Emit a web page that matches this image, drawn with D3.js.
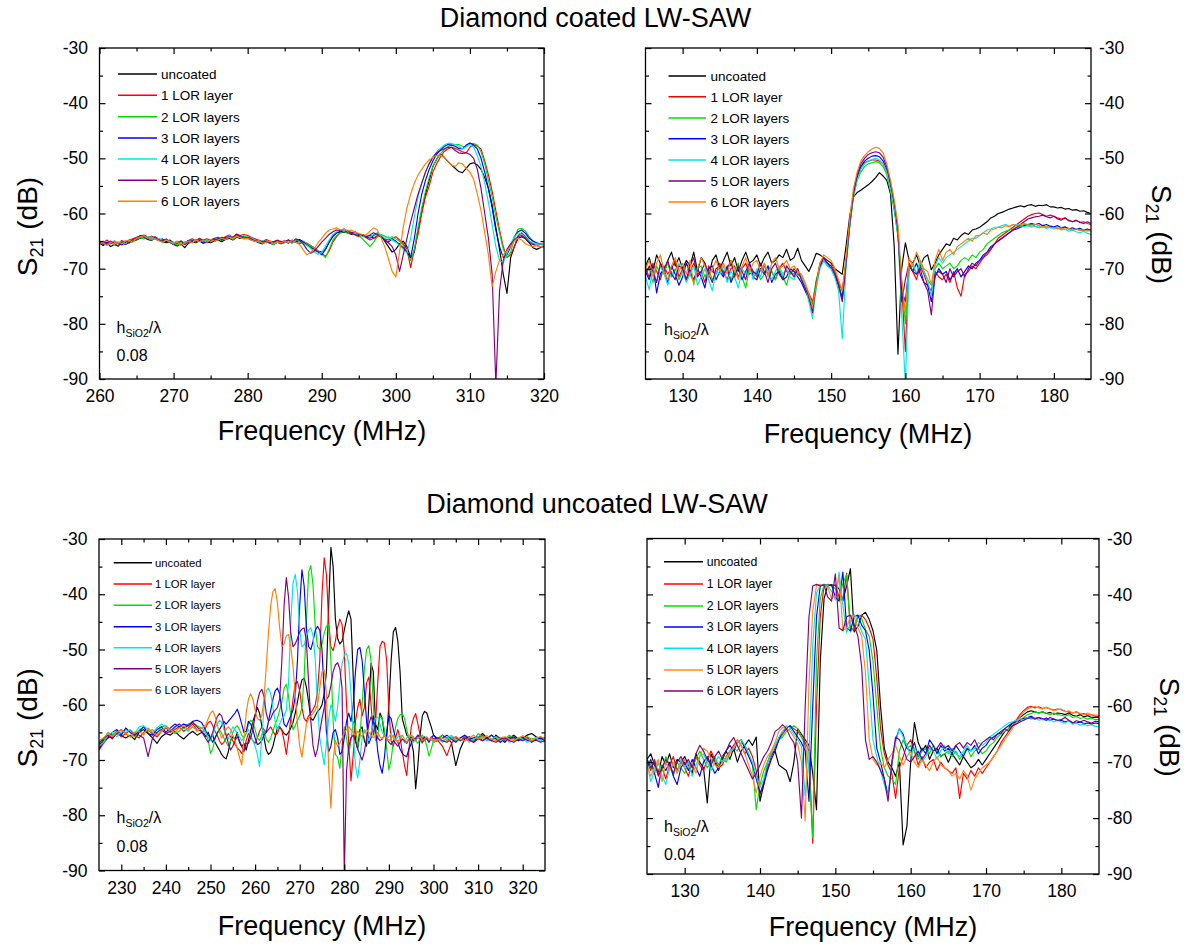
<!DOCTYPE html>
<html>
<head>
<meta charset="utf-8">
<script src="https://cdn.jsdelivr.net/npm/d3@7"></script>
<style>
  body { margin: 0; background: #fff; }
  svg { display: block; }
  text { font-family: Arial, "Liberation Sans", sans-serif; fill: #000; }
</style>
</head>
<body>
<svg id="chart" width="1189" height="947"></svg>
<script>
// ---------------- series names and colours ----------------
const layerNames = ["uncoated", "1 LOR layer", "2 LOR layers", "3 LOR layers", "4 LOR layers", "5 LOR layers", "6 LOR layers"];
const traceColors = ["#000000", "#ff0000", "#00e000", "#0000ff", "#00e6e6", "#800080", "#ff8000"];
// the bare-diamond 0.04 device uses orange for 5 layers and purple for 6
const traceColorsSwap = ["#000000", "#ff0000", "#00e000", "#0000ff", "#00e6e6", "#ff8c1a", "#800080"];

const yMajorTicks = [-90, -80, -70, -60, -50, -40, -30];
const yMinorTicks = [-85, -75, -65, -55, -45, -35];

// ---------------- coated diamond, hSiO2/λ = 0.08 (S21 in dB) ----------------
const coated08Freq = d3.range(260, 320.001, 0.5);
const coated08Uncoated = [
-65.4,-65.8,-65.3,-66.0,-65.6,-65.9,-65.2,-65.6,-65.3,-65.0,
-64.8,-64.5,-64.3,-64.7,-64.9,-64.5,-64.8,-65.1,-65.3,-65.2,
-65.6,-65.9,-65.5,-66.2,-65.4,-65.1,-65.3,-65.0,-65.4,-65.2,
-65.3,-65.0,-64.8,-65.1,-64.7,-64.5,-64.8,-64.3,-64.5,-64.2,
-64.5,-64.8,-65.0,-65.3,-65.5,-65.1,-65.4,-65.6,-65.2,-65.5,
-65.2,-64.8,-65.3,-65.0,-64.7,-65.1,-65.6,-66.0,-66.5,-66.8,
-67.0,-66.5,-65.2,-64.2,-63.5,-63.4,-63.2,-63.5,-63.8,-63.6,
-64.0,-63.8,-64.3,-64.0,-64.5,-64.2,-64.0,-65.0,-66.0,-67.0,
-66.5,-65.5,-65.0,-66.0,-68.0,-67.0,-63.0,-59.5,-56.5,-54.0,
-51.5,-50.2,-49.2,-49.8,-50.5,-51.2,-51.8,-52.4,-52.6,-51.8,
-51.0,-50.8,-51.2,-52.0,-53.5,-55.5,-58.5,-62.5,-66.5,-71.0,
-74.5,-68.0,-66.0,-64.5,-64.2,-64.6,-65.3,-66.2,-66.5,-66.2,
-66.0];
const coated08Lor1 = [
-65.0,-65.3,-64.8,-65.4,-65.1,-65.5,-64.9,-65.2,-64.8,-64.6,
-64.3,-64.1,-63.9,-64.2,-64.5,-64.2,-64.6,-64.9,-64.7,-65.0,
-65.2,-65.5,-65.0,-65.4,-64.9,-64.6,-64.9,-64.5,-64.8,-64.6,
-64.8,-64.5,-64.3,-64.6,-64.2,-63.9,-64.3,-63.7,-64.0,-63.8,
-64.0,-64.3,-64.6,-64.9,-65.1,-64.7,-65.0,-65.2,-64.8,-65.1,
-65.0,-65.4,-64.8,-65.2,-65.5,-65.1,-65.4,-65.8,-66.2,-66.8,
-67.2,-67.8,-66.8,-65.2,-64.2,-63.5,-63.4,-63.2,-63.6,-63.9,
-64.2,-64.0,-64.4,-64.8,-64.5,-64.0,-64.3,-64.6,-64.8,-64.5,
-64.2,-64.8,-65.5,-66.4,-69.8,-66.5,-63.8,-60.0,-57.0,-55.0,
-52.5,-51.0,-49.8,-48.8,-48.3,-48.0,-48.2,-48.5,-48.8,-49.0,
-48.0,-47.5,-47.8,-48.3,-50.5,-53.0,-56.0,-59.5,-63.0,-66.0,
-68.0,-67.5,-66.0,-64.0,-63.5,-64.2,-65.0,-65.4,-65.5,-65.6,
-65.7];
const coated08Lor2 = [
-65.3,-65.0,-65.5,-65.2,-65.7,-65.3,-65.6,-65.1,-65.4,-65.0,
-64.7,-64.4,-64.6,-64.3,-64.8,-64.5,-64.9,-65.2,-65.0,-65.3,
-65.4,-65.7,-65.3,-65.6,-65.2,-64.9,-65.1,-64.8,-65.0,-64.8,
-65.1,-64.8,-64.6,-64.9,-64.5,-64.3,-64.7,-64.2,-64.4,-64.1,
-64.3,-64.6,-64.9,-65.1,-65.4,-65.0,-65.3,-65.6,-65.2,-65.4,
-65.3,-64.9,-65.4,-65.0,-65.2,-65.0,-65.5,-65.9,-66.3,-66.8,
-67.3,-68.0,-66.5,-64.8,-64.0,-63.5,-63.3,-63.6,-63.4,-63.8,
-64.0,-64.6,-65.3,-66.0,-65.2,-64.2,-63.8,-64.1,-64.5,-64.2,
-64.6,-65.0,-65.8,-67.0,-68.5,-66.5,-62.5,-59.0,-56.0,-53.5,
-51.5,-50.2,-49.2,-48.5,-47.9,-47.6,-47.5,-47.5,-47.8,-47.9,
-47.4,-47.3,-47.6,-48.8,-51.0,-54.0,-57.0,-60.5,-63.5,-66.5,
-68.0,-67.0,-64.5,-62.8,-62.7,-63.2,-64.2,-65.0,-65.4,-65.5,
-65.6];
const coated08Lor3 = [
-65.1,-65.6,-65.2,-65.5,-65.0,-65.4,-65.7,-65.2,-64.9,-65.1,
-64.6,-64.2,-64.0,-64.4,-64.2,-64.6,-64.9,-64.6,-65.1,-64.8,
-65.4,-65.1,-65.6,-65.3,-64.9,-65.2,-64.8,-64.9,-65.3,-65.0,
-64.8,-64.9,-64.5,-64.8,-64.4,-64.1,-64.4,-63.9,-64.1,-64.3,
-64.4,-64.7,-64.9,-65.2,-65.0,-65.3,-65.1,-65.3,-65.0,-65.2,
-65.0,-65.3,-64.9,-65.2,-64.8,-65.2,-65.7,-66.2,-66.6,-67.0,
-67.5,-66.5,-65.2,-64.0,-63.5,-63.2,-63.4,-63.1,-63.5,-63.8,
-64.0,-63.8,-64.2,-64.5,-64.0,-63.6,-64.0,-64.8,-65.2,-64.6,
-65.0,-65.6,-66.2,-67.0,-68.0,-64.5,-60.0,-56.5,-54.0,-52.0,
-50.5,-49.3,-48.5,-47.9,-47.5,-47.6,-47.8,-48.2,-48.3,-47.6,
-47.2,-47.6,-48.3,-50.0,-52.5,-55.5,-59.0,-63.0,-66.0,-68.0,
-67.5,-66.0,-64.2,-63.3,-63.0,-63.6,-64.5,-65.0,-65.3,-65.5,
-65.6];
const coated08Lor4 = [
-65.5,-65.2,-65.7,-65.3,-65.0,-65.4,-65.1,-65.5,-65.0,-64.7,
-64.4,-64.1,-64.5,-64.2,-64.4,-64.7,-64.5,-64.9,-64.8,-65.1,
-65.3,-65.0,-65.5,-65.1,-65.3,-64.8,-65.0,-64.6,-65.1,-64.8,
-65.0,-64.6,-64.7,-64.4,-64.6,-64.0,-64.4,-64.0,-64.2,-64.4,
-64.6,-64.4,-64.8,-65.2,-64.9,-65.2,-65.0,-65.4,-65.1,-65.3,
-65.2,-64.9,-65.3,-64.7,-65.0,-65.4,-65.8,-66.3,-67.0,-67.4,
-67.0,-66.0,-64.8,-63.8,-63.3,-63.0,-63.2,-63.0,-63.4,-63.6,
-63.8,-64.2,-64.0,-64.3,-63.8,-63.5,-63.9,-64.5,-64.2,-64.8,
-65.2,-65.8,-66.5,-67.2,-64.5,-60.5,-57.0,-54.5,-52.5,-51.0,
-49.8,-48.8,-48.2,-47.6,-47.3,-47.3,-47.5,-47.8,-48.3,-47.9,
-47.5,-48.0,-49.5,-51.5,-54.5,-58.0,-62.0,-66.0,-68.5,-69.0,
-67.2,-65.5,-64.3,-63.5,-63.8,-64.5,-65.0,-65.3,-65.5,-65.5,
-65.6];
const coated08Lor5 = [
-65.4,-65.1,-65.6,-65.0,-65.5,-65.9,-65.2,-65.0,-65.3,-64.7,
-64.4,-64.0,-64.3,-64.6,-64.1,-64.4,-64.8,-65.0,-64.6,-65.2,
-65.6,-65.3,-65.0,-65.6,-65.2,-64.9,-65.2,-64.6,-65.0,-65.3,
-64.9,-64.6,-64.8,-64.3,-64.6,-64.2,-64.4,-63.8,-64.2,-64.5,
-64.3,-64.6,-65.0,-64.8,-65.2,-65.0,-65.3,-65.1,-64.9,-65.4,
-65.1,-64.8,-65.2,-64.6,-64.9,-65.5,-66.5,-67.2,-66.8,-66.0,
-65.2,-64.5,-63.8,-63.3,-63.0,-63.1,-62.8,-63.2,-63.5,-63.3,
-63.8,-63.9,-64.2,-63.9,-63.5,-63.8,-64.2,-64.8,-65.3,-66.0,
-67.5,-70.5,-67.5,-64.5,-61.5,-59.0,-56.5,-54.5,-52.5,-51.0,
-49.8,-49.0,-48.6,-48.3,-48.0,-48.0,-48.6,-49.0,-49.1,-49.0,
-49.3,-50.0,-52.0,-55.5,-60.0,-64.5,-71.0,-91.0,-74.0,-68.5,
-66.5,-65.5,-64.8,-64.2,-64.0,-64.5,-65.2,-65.6,-65.8,-66.0,
-66.2];
const coated08Lor6 = [
-65.0,-65.4,-65.8,-65.2,-65.6,-65.1,-65.5,-65.0,-64.8,-65.2,
-64.5,-64.3,-64.0,-64.5,-64.2,-64.6,-64.9,-65.2,-64.8,-65.1,
-65.5,-65.2,-65.8,-65.4,-65.0,-65.3,-64.8,-65.1,-64.9,-65.2,
-64.7,-65.0,-64.8,-64.5,-64.7,-64.3,-64.5,-64.1,-64.4,-64.6,
-64.5,-64.8,-65.1,-64.9,-65.4,-65.2,-65.0,-65.5,-65.1,-65.3,
-65.0,-65.3,-64.9,-65.2,-65.6,-66.6,-67.5,-67.0,-66.4,-65.3,
-64.5,-63.6,-63.0,-62.8,-62.6,-63.0,-62.8,-63.2,-63.0,-63.4,
-63.6,-63.8,-63.9,-63.2,-62.6,-63.0,-64.4,-66.0,-68.2,-70.5,
-71.5,-67.0,-62.5,-59.0,-56.5,-54.5,-53.0,-52.0,-51.0,-50.3,
-49.8,-49.5,-49.4,-49.8,-50.5,-51.2,-51.5,-50.8,-51.0,-51.8,
-52.5,-53.8,-56.5,-59.5,-63.5,-67.5,-73.3,-70.5,-68.5,-67.5,
-66.8,-66.0,-65.0,-64.5,-64.8,-65.5,-65.8,-66.0,-65.8,-66.0,
-66.2];

// ---------------- coated diamond, hSiO2/λ = 0.04 ----------------
const coated04Freq = d3.range(125, 185.001, 0.5);
const coated04Uncoated = [
-69.5,-68.0,-70.5,-67.5,-69.0,-71.0,-68.5,-67.0,-69.5,-68.0,
-70.0,-68.5,-69.5,-67.0,-70.5,-68.0,-69.0,-71.5,-68.5,-67.5,
-70.0,-68.5,-67.0,-69.5,-68.0,-70.5,-68.5,-67.0,-69.0,-68.5,
-67.5,-69.5,-68.0,-67.0,-69.0,-68.5,-67.5,-68.0,-66.5,-68.5,
-68.0,-66.3,-68.5,-69.5,-70.5,-69.0,-67.2,-67.5,-68.0,-68.5,
-69.0,-70.0,-70.5,-71.0,-66.0,-60.5,-57.0,-56.2,-55.8,-55.3,
-54.8,-54.2,-53.5,-52.6,-53.2,-54.0,-56.5,-66.0,-85.5,-70.0,
-65.3,-68.5,-69.0,-67.5,-69.5,-68.0,-67.5,-70.2,-69.0,-67.5,
-66.5,-65.5,-65.8,-64.5,-64.8,-64.0,-63.5,-63.8,-63.0,-62.8,
-62.5,-62.0,-61.5,-60.8,-60.5,-60.0,-59.8,-59.5,-59.2,-59.0,
-58.8,-58.6,-58.8,-58.5,-58.4,-58.7,-58.5,-58.6,-58.4,-58.8,
-58.8,-59.0,-58.9,-59.2,-59.1,-59.4,-59.3,-59.6,-59.5,-59.8,
-60.0];
const coated04Lor1 = [
-70.0,-71.5,-69.0,-70.5,-72.0,-69.5,-71.0,-70.0,-68.5,-71.5,
-70.0,-72.0,-70.5,-69.0,-71.0,-70.5,-72.5,-69.5,-70.5,-71.0,
-69.0,-70.5,-72.0,-70.0,-69.5,-71.5,-70.0,-69.0,-71.0,-70.5,
-71.5,-70.0,-69.5,-71.0,-70.5,-72.0,-70.0,-69.0,-70.5,-71.0,
-70.0,-71.0,-71.5,-73.0,-74.5,-76.0,-72.5,-69.0,-68.0,-69.0,
-69.5,-70.5,-72.5,-74.0,-69.0,-62.0,-56.5,-53.5,-51.5,-50.8,
-50.5,-50.3,-50.3,-50.5,-51.0,-52.5,-55.5,-59.0,-64.0,-73.0,
-85.0,-69.0,-70.5,-72.0,-69.5,-71.0,-73.0,-74.0,-70.5,-71.5,
-72.0,-71.0,-72.5,-70.5,-73.5,-75.0,-71.0,-70.5,-69.5,-70.0,
-69.0,-68.0,-67.5,-66.5,-65.5,-64.5,-64.0,-63.5,-63.0,-62.5,
-62.0,-61.5,-61.0,-60.5,-60.2,-60.0,-59.9,-60.2,-60.5,-60.3,
-60.5,-60.8,-61.0,-60.8,-61.2,-61.5,-61.3,-61.6,-61.5,-61.8,
-62.0];
const coated04Lor2 = [
-71.0,-70.0,-72.5,-69.5,-71.0,-70.5,-69.0,-71.5,-70.0,-72.0,
-70.5,-69.0,-71.0,-72.5,-70.0,-69.5,-71.5,-70.0,-72.0,-71.0,
-69.5,-71.0,-70.0,-72.0,-70.5,-69.0,-71.5,-73.5,-70.0,-71.0,
-70.5,-72.0,-71.0,-69.5,-70.5,-72.0,-70.0,-71.5,-73.0,-70.5,
-71.0,-70.0,-72.0,-73.5,-75.0,-76.5,-72.0,-69.5,-68.5,-69.5,
-70.0,-71.5,-73.0,-75.0,-69.5,-62.5,-57.0,-54.0,-52.5,-51.5,
-51.0,-50.8,-50.6,-50.8,-51.5,-53.0,-56.0,-59.5,-64.0,-72.0,
-80.0,-70.0,-69.5,-71.0,-69.0,-70.5,-72.0,-73.0,-70.0,-69.0,
-70.0,-69.5,-69.0,-70.0,-69.5,-68.5,-68.0,-68.5,-67.5,-68.0,
-67.0,-66.5,-65.5,-65.0,-64.5,-64.0,-63.5,-63.2,-63.0,-62.8,
-62.5,-62.3,-62.0,-62.2,-62.0,-62.3,-62.5,-62.2,-62.5,-62.4,
-62.5,-62.6,-62.8,-62.5,-62.7,-63.0,-62.8,-63.0,-63.2,-63.0,
-63.2];
const coated04Lor3 = [
-70.5,-72.0,-69.5,-74.4,-71.0,-70.0,-72.5,-69.5,-71.0,-73.0,
-71.5,-69.0,-70.5,-72.0,-70.0,-71.5,-73.5,-70.0,-69.5,-72.0,
-70.5,-71.5,-69.5,-72.5,-71.0,-70.0,-72.0,-70.5,-69.0,-71.5,
-72.0,-70.0,-71.0,-69.5,-72.5,-71.0,-70.5,-72.0,-71.5,-70.0,
-70.5,-71.5,-72.5,-74.0,-75.5,-77.0,-73.0,-69.5,-68.5,-69.0,
-70.0,-71.0,-73.0,-75.5,-69.0,-62.0,-56.5,-53.5,-51.5,-50.5,
-50.0,-49.6,-49.5,-49.7,-50.5,-52.0,-55.0,-58.5,-63.5,-74.0,
-76.0,-69.5,-70.5,-69.0,-71.0,-72.5,-73.0,-76.0,-71.5,-70.0,
-71.0,-70.5,-72.0,-71.0,-70.0,-71.5,-70.5,-69.5,-70.0,-69.0,
-68.5,-67.5,-67.0,-66.0,-65.5,-65.0,-64.5,-64.0,-63.5,-63.0,
-62.8,-62.5,-62.2,-62.0,-61.8,-62.0,-61.8,-62.2,-62.0,-62.3,
-62.4,-62.2,-62.6,-62.4,-62.8,-62.6,-62.9,-62.7,-63.0,-62.8,
-63.0];
const coated04Lor4 = [
-71.5,-73.8,-70.0,-72.5,-69.5,-71.0,-73.0,-70.5,-72.0,-69.0,
-70.5,-72.5,-71.0,-69.5,-73.0,-71.5,-70.0,-72.0,-74.0,-70.5,
-71.0,-69.5,-72.5,-70.5,-71.5,-73.5,-70.0,-71.0,-69.5,-72.0,
-70.0,-71.5,-69.0,-70.5,-72.0,-70.5,-69.5,-71.0,-70.0,-71.5,
-72.0,-70.5,-71.5,-73.0,-76.0,-79.0,-73.5,-70.0,-68.5,-69.5,
-70.0,-71.5,-74.0,-82.7,-70.0,-62.5,-57.0,-54.0,-52.0,-51.0,
-50.5,-50.2,-50.0,-50.3,-51.0,-52.5,-55.5,-59.0,-64.0,-78.0,
-91.0,-70.0,-69.0,-71.0,-68.5,-70.5,-72.0,-75.0,-69.5,-68.0,
-69.0,-68.0,-67.5,-67.0,-66.5,-66.0,-65.5,-65.0,-64.5,-64.5,
-64.0,-63.5,-63.0,-62.8,-62.5,-62.5,-62.2,-62.0,-62.3,-62.0,
-62.0,-62.2,-62.4,-62.2,-62.5,-62.3,-62.6,-62.4,-62.7,-62.5,
-62.8,-62.6,-63.0,-62.8,-63.2,-63.0,-63.3,-63.5,-63.2,-63.6,
-63.8];
const coated04Lor5 = [
-71.0,-69.5,-70.5,-72.5,-69.0,-70.0,-68.5,-71.0,-72.0,-69.5,
-70.0,-72.0,-69.5,-68.0,-71.5,-70.5,-69.0,-71.0,-72.5,-70.0,
-69.5,-71.0,-70.0,-68.5,-71.5,-69.5,-70.5,-72.0,-69.0,-70.5,
-71.0,-69.0,-70.5,-72.5,-70.0,-69.0,-71.0,-72.0,-69.5,-70.5,
-71.5,-70.0,-72.0,-73.5,-75.0,-78.0,-72.5,-69.5,-68.0,-69.0,
-69.5,-71.0,-73.0,-76.0,-69.0,-62.0,-56.5,-53.0,-51.0,-50.0,
-49.3,-49.0,-48.8,-49.0,-49.8,-51.5,-54.5,-58.0,-63.0,-76.0,
-72.0,-69.0,-70.5,-71.0,-70.0,-72.5,-74.0,-78.4,-71.0,-70.5,
-71.0,-72.5,-70.0,-71.5,-70.5,-70.0,-71.5,-70.0,-69.0,-69.5,
-68.5,-68.0,-67.0,-66.5,-65.5,-65.0,-64.5,-64.0,-63.5,-63.0,
-62.5,-62.0,-61.5,-61.0,-60.8,-60.6,-60.5,-60.3,-60.6,-60.8,
-60.5,-61.0,-61.2,-60.8,-61.3,-61.5,-61.2,-61.6,-61.8,-61.5,
-61.8];
const coated04Lor6 = [
-70.0,-68.5,-71.5,-69.0,-67.5,-70.5,-72.0,-69.5,-68.0,-70.5,
-69.0,-71.0,-68.5,-73.0,-70.0,-68.0,-69.5,-71.5,-70.0,-68.5,
-70.5,-69.0,-71.0,-68.5,-70.0,-72.0,-69.5,-68.0,-70.5,-69.0,
-68.5,-70.5,-69.0,-71.5,-69.0,-68.0,-70.0,-69.5,-68.5,-70.0,
-69.5,-70.5,-71.0,-72.5,-74.5,-77.0,-73.0,-69.0,-67.5,-68.0,
-68.5,-70.0,-72.0,-74.0,-68.0,-61.0,-55.5,-52.5,-50.5,-49.5,
-48.8,-48.3,-48.0,-48.2,-49.0,-51.0,-54.0,-57.5,-62.0,-72.0,
-78.0,-68.0,-69.5,-67.0,-68.5,-70.0,-70.5,-73.0,-68.5,-66.5,
-68.5,-67.0,-66.5,-67.5,-66.0,-65.5,-65.0,-64.5,-65.0,-64.0,
-64.0,-63.5,-63.8,-63.0,-62.8,-62.5,-62.6,-62.2,-62.4,-62.0,
-62.2,-62.0,-61.8,-62.0,-62.3,-62.0,-62.2,-62.5,-62.3,-62.6,
-62.5,-62.8,-62.6,-62.9,-62.7,-63.0,-62.8,-63.1,-62.9,-63.2,
-63.0];

// ---------------- bare diamond, hSiO2/λ = 0.08 ----------------
// sweep points: 1 MHz steps at the band edges, 0.5 MHz across the passband
const bare08Freq = [...d3.range(225, 248.5, 1), ...d3.range(248.5, 300.001, 0.5), ...d3.range(301, 325.001, 1)];
const bare08Uncoated = [
-67.5,-66.2,-65.8,-66.0,-65.2,-65.6,-66.0,-65.5,-66.3,-65.0,-64.5,-65.2,
-66.0,-67.0,-65.8,-65.2,-65.5,-64.8,-65.6,-66.2,-65.4,-64.8,-65.5,-65.0,
-65.2,-65.8,-65.0,-66.2,-65.5,-66.8,-67.5,-68.2,-69.0,-69.5,
-69.8,-68.5,-66.5,-65.8,-66.2,-65.0,-66.8,-67.6,-67.0,-68.2,
-66.5,-64.8,-63.0,-61.8,-60.5,-61.5,-63.8,-66.0,-68.2,-69.0,
-68.6,-67.5,-65.8,-64.2,-64.0,-64.6,-65.2,-65.5,-65.0,-64.2,
-63.2,-61.5,-59.5,-57.2,-55.5,-55.2,-56.8,-59.5,-62.5,-62.8,
-62.0,-61.2,-60.8,-60.0,-58.0,-54.0,-42.0,-31.5,-35.0,-44.5,
-48.0,-49.0,-48.5,-46.5,-44.5,-43.0,-44.5,-55.0,-66.5,-68.0,
-64.5,-64.0,-66.5,-67.5,-60.0,-52.5,-54.0,-63.5,-64.5,-61.5,
-62.5,-65.5,-66.0,-60.0,-52.0,-46.8,-46.0,-48.5,-54.0,-62.5,
-64.0,-65.5,-66.0,-66.5,-68.5,-75.2,-71.0,-65.5,-62.0,-61.2,
-61.5,-62.8,-64.0,-65.5,
-66.2,-65.5,-66.0,-66.8,-71.0,-68.0,-66.2,-65.8,-66.5,-66.0,-65.2,-66.0,-66.5,
-65.5,-66.2,-66.8,-66.0,-65.5,-66.2,-66.0,-65.5,-65.2,-65.8,-66.2,-66.0];
const bare08Lor1 = [
-68.2,-67.0,-66.0,-65.5,-65.0,-65.8,-65.2,-64.6,-65.5,-66.0,-65.0,-64.5,
-65.3,-65.8,-64.8,-64.2,-65.0,-64.5,-64.0,-64.8,-64.2,-63.5,-64.5,-64.8,
-64.8,-64.0,-63.2,-63.0,-63.8,-64.8,-65.5,-66.5,-67.2,-66.8,
-66.0,-65.2,-65.8,-66.5,-67.2,-67.8,-68.2,-68.8,-68.0,-66.5,
-65.2,-65.8,-66.5,-67.0,-66.0,-64.8,-64.0,-64.5,-65.0,-64.5,
-64.0,-64.8,-65.5,-65.2,-64.0,-64.6,-66.5,-69.0,-66.0,-62.5,
-59.0,-56.2,-55.8,-57.5,-60.5,-62.5,-63.0,-62.0,-61.5,-60.8,
-60.0,-57.5,-52.0,-40.0,-33.4,-36.5,-45.0,-49.5,-50.2,-48.5,
-46.0,-44.5,-45.5,-50.5,-60.0,-67.0,-73.8,-69.0,-63.0,-60.5,
-59.0,-62.0,-60.5,-56.0,-55.0,-60.0,-65.5,-63.5,-56.0,-49.5,
-48.5,-48.8,-52.0,-61.0,-66.5,-67.5,-66.0,-64.5,-66.0,-68.5,
-71.0,-72.8,-68.0,-64.0,-62.5,-61.6,-63.5,-65.5,-66.0,-66.5,
-66.0,-66.5,-66.2,-66.8,
-66.5,-67.5,-69.2,-67.0,-66.0,-66.5,-65.8,-66.2,-66.8,-66.0,-65.5,-66.2,-66.5,
-65.8,-66.0,-66.5,-65.8,-66.2,-66.5,-65.8,-66.0,-66.5,-66.2,-65.8,-66.2];
const bare08Lor2 = [
-67.0,-66.5,-65.0,-65.5,-64.8,-65.2,-64.5,-65.0,-65.8,-64.6,-64.0,-65.0,
-64.5,-65.2,-64.0,-63.8,-64.5,-65.2,-64.8,-64.0,-63.5,-63.2,-63.8,-64.2,
-64.5,-65.2,-66.5,-68.8,-68.0,-66.2,-65.0,-64.5,-65.2,-66.0,
-66.8,-67.5,-66.5,-65.0,-64.2,-63.8,-64.5,-65.5,-66.0,-65.2,
-63.5,-62.8,-63.2,-64.5,-66.0,-66.5,-65.5,-64.8,-66.2,-66.8,
-66.0,-64.8,-63.5,-62.5,-61.0,-59.5,-57.0,-56.3,-58.5,-62.0,
-64.5,-63.8,-62.8,-62.0,-60.5,-55.0,-45.0,-36.0,-34.8,-38.5,
-46.0,-49.5,-50.0,-49.0,-47.0,-45.8,-45.5,-52.0,-63.0,-69.0,
-69.5,-71.5,-67.5,-64.0,-66.0,-69.0,-66.5,-63.0,-64.0,-67.5,
-66.0,-60.0,-53.5,-50.0,-49.3,-52.0,-60.0,-66.5,-66.0,-62.0,
-62.5,-64.5,-68.0,-71.8,-70.0,-66.5,-64.0,-62.5,-61.8,-61.6,
-62.5,-64.5,-66.0,-65.5,-65.8,-66.5,-67.0,-66.0,-65.5,-66.2,
-67.5,-69.3,-68.0,-66.5,
-66.0,-65.5,-66.2,-65.8,-66.5,-66.0,-65.5,-66.0,-66.5,-65.2,-65.8,-66.2,-65.5,
-66.0,-66.8,-66.2,-65.5,-66.0,-66.5,-66.2,-65.8,-66.2,-66.0,-66.5,-66.0];
const bare08Lor3 = [
-68.0,-66.5,-66.0,-65.0,-64.5,-65.5,-64.2,-65.0,-65.5,-64.8,-64.0,-65.2,
-65.5,-64.5,-64.0,-65.0,-64.2,-63.5,-64.0,-63.5,-63.8,-63.0,-62.8,-63.2,
-64.0,-64.8,-65.5,-66.0,-66.8,-66.0,-65.2,-64.5,-63.8,-63.0,
-63.5,-63.0,-62.5,-62.0,-61.5,-60.8,-62.0,-63.5,-65.0,-64.8,
-63.0,-63.5,-64.5,-66.0,-67.2,-67.0,-66.5,-65.5,-65.0,-63.0,
-61.0,-59.0,-57.5,-57.0,-58.0,-61.0,-63.5,-64.0,-63.0,-62.0,
-61.0,-58.5,-52.0,-42.0,-35.6,-38.5,-46.0,-49.5,-50.0,-48.5,
-46.5,-45.8,-46.5,-50.0,-58.0,-65.0,-68.5,-67.5,-65.0,-64.5,
-66.0,-69.0,-68.5,-66.0,-63.0,-61.5,-63.0,-60.0,-54.0,-50.0,
-49.6,-52.0,-57.5,-63.0,-67.0,-66.0,-62.0,-64.0,-68.5,-71.0,
-72.4,-69.5,-65.0,-62.0,-62.5,-64.5,-66.0,-66.8,-68.0,-68.8,
-69.2,-69.4,-68.0,-67.0,-66.2,-66.5,-65.5,-66.0,-66.5,-65.8,
-66.2,-66.8,-66.0,-65.5,
-66.5,-66.0,-65.5,-66.2,-66.8,-66.0,-65.5,-66.2,-66.0,-65.8,-66.5,-66.0,-65.5,
-66.2,-66.8,-66.0,-66.2,-65.8,-66.5,-66.0,-66.4,-66.8,-66.2,-66.0,-66.5];
const bare08Lor4 = [
-67.5,-66.8,-65.5,-65.0,-65.8,-64.8,-65.0,-64.5,-65.2,-64.0,-63.8,-64.5,
-65.0,-64.2,-63.5,-64.0,-64.8,-64.2,-63.5,-64.2,-64.8,-64.0,-64.5,-64.2,
-64.5,-65.2,-65.8,-66.5,-65.5,-64.2,-63.5,-62.8,-63.2,-64.5,
-65.5,-66.2,-65.0,-64.0,-64.5,-65.2,-65.8,-66.5,-66.0,-65.2,
-64.5,-65.5,-66.5,-67.5,-69.0,-71.2,-66.0,-60.5,-57.5,-57.0,
-58.0,-60.5,-63.0,-64.5,-63.5,-62.5,-62.0,-61.0,-56.0,-45.0,
-38.0,-36.4,-39.5,-46.5,-49.5,-49.2,-47.5,-46.5,-46.1,-47.5,
-52.0,-60.0,-66.0,-68.5,-70.9,-67.0,-62.5,-60.0,-61.0,-63.0,
-60.5,-56.0,-52.5,-51.0,-50.7,-52.5,-58.0,-65.0,-71.0,-73.3,
-70.0,-66.0,-64.5,-65.5,-66.5,-65.0,-63.5,-62.5,-62.2,-63.5,
-65.0,-65.5,-66.2,-65.8,-65.2,-66.0,-66.5,-65.8,-65.5,-66.2,
-66.8,-66.0,-65.5,-66.2,-66.8,-66.0,-65.8,-66.5,-67.0,-66.2,
-65.8,-66.5,-66.2,-66.8,
-66.2,-66.8,-66.0,-65.5,-66.2,-66.5,-66.0,-66.8,-66.2,-65.8,-66.0,-66.5,-66.2,
-65.8,-66.5,-66.0,-66.8,-66.5,-66.0,-66.2,-66.8,-66.5,-66.0,-66.5,-66.8];
const bare08Lor5 = [
-67.0,-66.0,-65.5,-66.2,-65.0,-64.5,-65.2,-65.8,-65.0,-65.5,-66.0,-69.4,
-66.0,-65.0,-64.5,-65.2,-64.8,-64.0,-63.5,-64.2,-63.8,-63.2,-64.0,-64.8,
-65.5,-66.2,-66.8,-66.0,-65.0,-63.5,-62.2,-61.6,-62.0,-63.5,
-65.5,-67.0,-68.2,-67.5,-66.5,-65.8,-66.5,-67.5,-68.5,-67.0,
-67.0,-66.0,-64.5,-62.0,-59.5,-57.8,-57.2,-58.5,-61.5,-63.0,
-62.5,-61.5,-61.0,-60.5,-59.0,-52.0,-42.0,-37.0,-40.5,-47.0,
-49.5,-49.0,-48.0,-46.8,-46.3,-46.1,-48.5,-56.0,-63.0,-67.5,
-69.4,-68.0,-65.0,-62.5,-60.5,-59.0,-58.5,-56.5,-54.0,-52.8,
-52.4,-53.5,-57.0,-91.0,-72.0,-67.5,-66.0,-65.5,-66.5,-68.0,
-69.0,-70.0,-68.5,-66.0,-63.5,-62.2,-63.0,-65.0,-66.0,-66.5,
-66.2,-65.5,-66.0,-66.8,-67.2,-66.5,-67.0,-67.5,-66.8,-66.2,
-66.5,-67.0,-66.2,-65.8,-66.5,-66.0,-65.5,-66.2,-66.8,-66.2,
-66.0,-66.5,-65.8,-66.2,
-66.0,-66.5,-66.8,-66.2,-65.8,-66.5,-66.0,-66.4,-66.8,-66.2,-66.5,-66.0,-66.5,
-66.8,-66.2,-66.0,-66.5,-66.8,-66.2,-66.5,-66.0,-66.6,-66.4,-66.8,-66.5];
const bare08Lor6 = [
-66.5,-66.0,-65.2,-65.8,-65.0,-64.5,-65.2,-65.8,-65.0,-64.8,-65.5,-64.2,
-65.0,-65.5,-64.8,-64.0,-64.5,-65.0,-64.2,-63.8,-64.5,-64.0,-64.8,-64.2,
-64.0,-63.5,-62.5,-61.5,-61.1,-62.0,-63.5,-65.0,-66.0,-65.5,
-64.5,-64.0,-64.5,-65.5,-66.5,-68.0,-69.5,-70.9,-66.0,-61.5,
-59.0,-58.0,-59.0,-61.0,-62.5,-62.8,-62.0,-59.0,-53.0,-47.0,
-42.0,-39.5,-39.0,-41.5,-46.0,-49.5,-49.0,-47.5,-47.3,-49.5,
-53.0,-58.0,-63.5,-67.5,-69.5,-66.5,-63.5,-62.5,-62.0,-61.5,
-61.0,-60.0,-57.0,-54.0,-53.7,-58.0,-72.0,-78.7,-70.0,-66.5,
-67.5,-67.0,-66.0,-65.0,-64.5,-64.0,-64.5,-65.0,-65.5,-64.8,
-65.2,-65.8,-65.0,-64.5,-65.0,-65.5,-66.0,-65.5,-65.0,-65.8,
-66.2,-65.5,-66.0,-66.5,-66.0,-65.5,-66.2,-66.8,-66.0,-65.5,
-66.2,-66.8,-66.0,-65.5,-66.2,-66.5,-66.0,-65.8,-66.5,-66.2,
-65.8,-66.4,-66.0,-66.5,
-66.4,-66.0,-66.5,-66.2,-65.8,-66.2,-66.6,-66.0,-65.5,-66.2,-66.0,-65.6,-66.2,
-66.5,-66.0,-65.8,-66.2,-66.5,-66.0,-65.6,-66.2,-66.5,-66.0,-65.8,-66.2];

// ---------------- bare diamond, hSiO2/λ = 0.04 ----------------
const bare04Freq = d3.range(125, 185.001, 0.5);
const bare04Uncoated = [
-69.5,-68.5,-70.5,-72.0,-69.0,-70.5,-68.5,-71.0,-69.5,-70.0,
-69.0,-70.5,-72.0,-68.5,-70.0,-71.0,-77.3,-68.5,-70.0,-71.5,
-69.0,-68.0,-69.5,-67.5,-70.0,-68.0,-67.0,-66.0,-67.0,-65.5,
-77.0,-74.0,-70.0,-68.5,-68.0,-70.5,-71.0,-71.5,-73.5,-70.0,
-64.0,-65.0,-66.0,-67.0,-72.0,-78.5,-52.0,-40.8,-38.3,-38.3,
-38.4,-39.0,-41.0,-38.5,-35.4,-46.7,-45.7,-43.7,-43.2,-44.5,
-46.5,-50.0,-60.0,-67.5,-70.0,-71.0,-72.5,-70.0,-84.8,-81.5,
-70.0,-62.9,-66.5,-68.0,-67.0,-69.5,-68.0,-67.5,-69.0,-68.5,
-70.0,-68.5,-69.5,-70.5,-69.0,-70.0,-71.0,-70.5,-69.5,-70.5,
-69.5,-68.5,-67.5,-66.5,-65.5,-64.5,-64.0,-63.0,-62.5,-62.0,
-61.5,-61.0,-60.8,-61.0,-61.2,-61.0,-61.3,-61.1,-61.4,-61.2,
-61.3,-61.5,-61.2,-61.6,-61.8,-61.5,-61.9,-61.7,-62.0,-62.0,
-62.0];
const bare04Lor1 = [
-70.0,-71.5,-69.5,-72.0,-71.0,-73.0,-70.5,-69.0,-71.5,-70.0,
-71.0,-72.5,-70.0,-69.0,-70.5,-71.5,-69.5,-68.0,-69.5,-71.0,
-70.5,-69.0,-68.0,-67.0,-66.0,-67.0,-68.5,-67.5,-69.0,-71.5,
-76.0,-73.5,-71.0,-69.0,-67.5,-66.0,-65.0,-64.0,-63.5,-64.0,
-64.5,-65.5,-66.5,-68.0,-84.5,-60.0,-44.0,-38.5,-38.2,-38.5,
-38.3,-40.5,-41.2,-36.2,-46.0,-46.5,-44.0,-43.7,-44.5,-46.0,
-48.0,-55.0,-64.0,-68.5,-70.5,-72.0,-76.5,-71.0,-69.0,-67.0,
-66.0,-68.0,-70.5,-69.0,-71.0,-70.0,-69.5,-71.5,-70.0,-71.0,
-71.5,-72.0,-71.0,-76.5,-72.0,-73.0,-71.5,-72.5,-71.0,-72.0,
-71.0,-70.0,-69.0,-68.0,-66.5,-65.5,-64.5,-63.5,-62.5,-61.5,
-60.8,-60.2,-60.0,-60.3,-60.1,-60.4,-60.2,-60.5,-60.7,-60.5,
-60.6,-60.9,-61.0,-61.2,-61.0,-61.4,-61.3,-61.6,-61.5,-61.8,
-61.8];
const bare04Lor2 = [
-69.5,-70.5,-72.0,-70.0,-71.5,-69.0,-70.5,-72.5,-70.0,-71.0,
-72.0,-70.0,-71.0,-69.5,-68.0,-69.5,-71.0,-70.0,-69.0,-70.5,
-69.0,-70.0,-68.5,-67.5,-68.0,-66.5,-67.0,-68.5,-70.5,-78.5,
-74.0,-71.5,-70.0,-68.0,-67.0,-66.0,-65.5,-64.5,-64.0,-63.5,
-64.0,-65.5,-67.0,-71.0,-83.5,-52.0,-40.8,-38.3,-38.3,-38.4,
-39.0,-41.0,-38.0,-36.5,-46.7,-45.7,-43.7,-44.3,-46.3,-47.5,
-52.0,-60.0,-67.5,-71.0,-72.5,-73.0,-74.0,-68.0,-66.0,-67.5,
-67.0,-68.0,-69.5,-68.0,-67.5,-68.5,-67.0,-68.0,-69.0,-68.5,
-68.0,-69.0,-68.0,-69.5,-68.5,-67.5,-69.0,-68.0,-67.5,-68.5,
-68.0,-67.0,-66.5,-65.5,-65.0,-64.5,-64.0,-63.5,-63.0,-62.5,
-62.0,-61.5,-61.3,-61.0,-61.2,-61.0,-61.3,-61.5,-61.2,-61.5,
-61.6,-61.8,-61.5,-62.0,-61.8,-62.2,-62.0,-62.3,-62.1,-62.4,
-62.4];
const bare04Lor3 = [
-71.0,-69.5,-72.0,-74.5,-70.5,-71.5,-70.0,-72.5,-74.0,-71.0,
-70.0,-71.5,-69.5,-71.0,-72.5,-70.0,-69.0,-70.5,-72.0,-71.0,
-69.5,-68.0,-67.0,-68.0,-66.5,-66.0,-67.5,-69.0,-70.5,-73.0,
-75.5,-74.0,-71.5,-69.5,-68.0,-66.0,-64.5,-64.0,-63.5,-64.5,
-65.5,-66.5,-68.0,-77.0,-60.0,-44.0,-38.5,-38.2,-38.5,-38.3,
-40.5,-41.2,-36.0,-46.0,-46.5,-44.0,-43.7,-45.5,-46.5,-50.0,
-58.0,-67.5,-70.0,-73.0,-76.0,-70.5,-66.0,-64.0,-65.0,-67.5,
-68.0,-66.5,-69.0,-67.5,-68.5,-66.0,-67.0,-68.5,-67.0,-68.0,
-67.5,-68.5,-67.0,-68.0,-69.0,-67.5,-68.0,-67.0,-68.5,-67.5,
-67.0,-66.0,-65.5,-65.0,-64.5,-64.0,-63.5,-63.0,-62.8,-62.5,
-62.2,-62.0,-61.8,-62.2,-62.0,-62.4,-62.1,-62.5,-62.3,-62.6,
-62.5,-62.8,-62.6,-62.9,-63.0,-62.8,-63.1,-63.0,-63.2,-63.0,
-63.1];
const bare04Lor4 = [
-70.0,-73.5,-71.5,-70.0,-72.5,-74.0,-71.0,-70.5,-72.0,-69.5,
-71.0,-70.0,-72.5,-70.5,-69.0,-68.5,-70.0,-71.5,-70.0,-69.0,
-70.0,-69.5,-68.0,-67.5,-66.5,-66.0,-67.0,-68.5,-70.0,-72.5,
-74.5,-73.0,-70.0,-68.5,-67.0,-65.5,-64.5,-63.5,-64.0,-65.0,
-66.0,-67.2,-76.0,-69.5,-49.0,-39.8,-38.3,-38.3,-38.4,-39.5,
-41.0,-36.0,-42.0,-46.8,-45.2,-43.6,-44.7,-46.7,-48.0,-56.5,
-66.0,-69.0,-71.5,-74.0,-76.0,-70.0,-66.5,-64.0,-65.5,-67.0,
-69.0,-67.5,-68.5,-70.0,-69.0,-67.5,-68.0,-69.5,-68.0,-67.0,
-68.5,-67.5,-68.5,-69.0,-68.0,-67.0,-68.0,-67.5,-66.5,-67.0,
-66.5,-65.5,-65.0,-64.5,-64.0,-63.5,-63.0,-62.8,-62.5,-62.2,
-62.5,-62.0,-62.3,-62.0,-62.5,-62.3,-62.6,-62.4,-62.8,-62.5,
-62.8,-63.0,-62.6,-63.2,-63.0,-63.4,-63.2,-63.5,-63.3,-63.6,
-63.6];
const bare04Lor5 = [
-70.5,-72.5,-71.0,-69.5,-73.5,-70.0,-71.5,-70.0,-72.0,-70.5,
-69.5,-71.0,-70.0,-72.0,-69.0,-67.5,-68.0,-69.5,-70.5,-71.0,
-70.0,-69.0,-68.5,-67.5,-66.0,-67.0,-68.5,-70.5,-72.5,-75.5,
-72.5,-70.5,-69.0,-68.0,-66.5,-64.5,-63.8,-64.0,-64.5,-65.5,
-66.7,-70.0,-80.5,-56.0,-43.0,-38.4,-38.2,-38.5,-38.7,-40.8,
-40.3,-36.8,-46.3,-46.1,-43.8,-44.0,-45.9,-47.5,-54.0,-66.0,
-69.5,-70.5,-70.0,-71.0,-69.5,-68.5,-67.0,-69.0,-70.5,-69.0,
-68.0,-70.0,-71.0,-69.5,-70.5,-71.5,-70.0,-69.0,-70.5,-71.0,
-71.5,-72.5,-72.0,-73.0,-71.5,-72.5,-75.0,-73.0,-72.0,-71.0,
-70.5,-70.0,-69.0,-68.0,-67.0,-66.0,-65.0,-64.0,-63.0,-62.0,
-61.0,-60.5,-60.2,-60.0,-60.3,-60.5,-60.2,-60.5,-60.8,-60.6,
-60.5,-61.0,-60.8,-61.2,-61.0,-61.3,-61.5,-61.2,-61.5,-61.6,
-61.6];
const bare04Lor6 = [
-69.5,-71.0,-70.0,-72.5,-71.0,-69.5,-70.5,-72.0,-70.0,-69.0,
-70.5,-69.5,-71.0,-68.5,-67.0,-68.0,-69.5,-70.5,-69.0,-68.0,
-69.5,-68.0,-66.5,-65.6,-67.0,-68.5,-70.0,-71.5,-73.0,-72.0,
-70.5,-69.0,-68.0,-66.5,-64.5,-64.0,-63.3,-64.0,-65.5,-66.5,
-70.0,-80.0,-60.0,-44.0,-38.5,-38.2,-38.5,-38.3,-40.5,-41.2,
-36.3,-46.0,-46.5,-44.0,-43.7,-45.5,-47.5,-53.0,-66.0,-69.5,
-69.0,-70.0,-71.5,-73.0,-77.0,-70.0,-65.5,-66.0,-67.5,-69.5,
-70.0,-69.0,-68.0,-69.5,-68.5,-67.0,-68.0,-67.5,-66.5,-67.5,
-67.0,-68.0,-67.0,-66.5,-67.5,-66.5,-67.0,-66.0,-67.5,-66.5,
-66.0,-65.5,-66.0,-65.0,-64.8,-64.0,-64.5,-63.5,-63.2,-62.8,
-62.5,-62.2,-62.0,-62.3,-62.0,-62.2,-62.5,-62.0,-62.3,-62.5,
-62.4,-62.0,-62.5,-63.0,-62.6,-62.8,-62.5,-62.8,-63.0,-62.7,
-62.8];

// ---------------- panel layout ----------------
const panels = [
  {
    freq: coated08Freq,
    series: [coated08Uncoated, coated08Lor1, coated08Lor2, coated08Lor3, coated08Lor4, coated08Lor5, coated08Lor6],
    colors: traceColors,
    box: { x0: 99.5, x1: 544, y0: 48, y1: 379 },
    xDomain: [260, 320], xMajor: d3.range(260, 320.1, 10), xMinor: d3.range(265, 320, 10),
    side: "left", labelX: 322, labelY: 440,
    legend: { x0: 118, x1: 157, tx: 161, rows: [74, 95.3, 116.7, 138, 159, 180.3, 201.3], size: 13.5 },
    note: { x: 116.5, y1: 333, y2: 361, ratio: "0.08" }
  },
  {
    freq: coated04Freq,
    series: [coated04Uncoated, coated04Lor1, coated04Lor2, coated04Lor3, coated04Lor4, coated04Lor5, coated04Lor6],
    colors: traceColors,
    box: { x0: 645.5, x1: 1091, y0: 48, y1: 379 },
    xDomain: [125, 185], xMajor: d3.range(130, 180.1, 10), xMinor: d3.range(135, 185, 10),
    side: "right", labelX: 868, labelY: 443,
    legend: { x0: 668.5, x1: 706, tx: 710.5, rows: [76, 96.7, 118, 138.7, 160, 181, 202], size: 13.5 },
    note: { x: 664, y1: 335, y2: 362, ratio: "0.04" }
  },
  {
    freq: bare08Freq,
    series: [bare08Uncoated, bare08Lor1, bare08Lor2, bare08Lor3, bare08Lor4, bare08Lor5, bare08Lor6],
    colors: traceColors,
    box: { x0: 99, x1: 545, y0: 539, y1: 870.5 },
    xDomain: [225, 325], xMajor: d3.range(230, 320.1, 10), xMinor: d3.range(235, 325, 10),
    side: "left", labelX: 322, labelY: 935,
    legend: { x0: 113.7, x1: 152, tx: 155, rows: [562.7, 584, 605.3, 626.7, 647.7, 668.7, 690], size: 11.3 },
    note: { x: 116.5, y1: 823, y2: 852, ratio: "0.08" }
  },
  {
    freq: bare04Freq,
    series: [bare04Uncoated, bare04Lor1, bare04Lor2, bare04Lor3, bare04Lor4, bare04Lor5, bare04Lor6],
    colors: traceColorsSwap,
    box: { x0: 647, x1: 1099, y0: 538.5, y1: 874 },
    xDomain: [125, 185], xMajor: d3.range(130, 180.1, 10), xMinor: d3.range(135, 185, 10),
    side: "right", labelX: 873, labelY: 936,
    legend: { x0: 664, x1: 703, tx: 706.7, rows: [561.7, 584, 606, 627, 648.3, 670, 691], size: 12.3 },
    note: { x: 664, y1: 832, y2: 860, ratio: "0.04" }
  }
];

const svg = d3.select("#chart");
svg.append("rect").attr("width", 1189).attr("height", 947).attr("fill", "#fff");

const titles = [
  { text: "Diamond coated LW-SAW", x: 595.5, y: 27 },
  { text: "Diamond uncoated LW-SAW", x: 597, y: 513 }
];
titles.forEach(t => svg.append("text")
  .attr("x", t.x).attr("y", t.y).attr("text-anchor", "middle")
  .attr("font-size", 27).text(t.text));

const tickText = d => String(d);

function styleAxis(g, fontSize) {
  g.select(".domain").remove();
  g.selectAll(".tick line").attr("stroke", "#000").attr("stroke-width", 1.2);
  g.selectAll(".tick text").attr("font-family", 'Arial, "Liberation Sans", sans-serif')
    .attr("font-size", fontSize).attr("fill", "#000");
  g.attr("font-family", null).attr("font-size", null);
}

panels.forEach((p, idx) => {
  const b = p.box;
  const x = d3.scaleLinear().domain(p.xDomain).range([b.x0, b.x1]);
  const y = d3.scaleLinear().domain([-90, -30]).range([b.y1, b.y0]);

  const clipId = "plotclip" + idx;
  svg.append("clipPath").attr("id", clipId).append("rect")
    .attr("x", b.x0).attr("y", b.y0).attr("width", b.x1 - b.x0).attr("height", b.y1 - b.y0);

  // traces
  const traces = svg.append("g").attr("clip-path", `url(#${clipId})`);
  const line = d3.line()
    .defined((v, i) => v != null && p.freq[i] != null)
    .x((v, i) => x(p.freq[i]))
    .y(v => y(v));
  p.series.forEach((vals, k) => {
    traces.append("path").datum(vals)
      .attr("d", line).attr("fill", "none")
      .attr("stroke", p.colors[k]).attr("stroke-width", 1.15)
      .attr("stroke-linejoin", "round");
  });

  // axes: inward ticks on all four sides
  const major = 6, minor = 3.5;
  const bottom = svg.append("g").attr("transform", `translate(0,${b.y1})`)
    .call(d3.axisBottom(x).tickValues(p.xMajor).tickSize(-major).tickPadding(11).tickFormat(tickText));
  styleAxis(bottom, 17.5);
  const bottomMinor = svg.append("g").attr("transform", `translate(0,${b.y1})`)
    .call(d3.axisBottom(x).tickValues(p.xMinor).tickSize(-minor).tickFormat(""));
  styleAxis(bottomMinor, 0);
  const top = svg.append("g").attr("transform", `translate(0,${b.y0})`)
    .call(d3.axisTop(x).tickValues(p.xMajor).tickSize(-major).tickFormat(""));
  styleAxis(top, 0);
  const topMinor = svg.append("g").attr("transform", `translate(0,${b.y0})`)
    .call(d3.axisTop(x).tickValues(p.xMinor).tickSize(-minor).tickFormat(""));
  styleAxis(topMinor, 0);

  const labelled = p.side === "left";
  const leftAxis = svg.append("g").attr("transform", `translate(${b.x0},0)`)
    .call(d3.axisLeft(y).tickValues(yMajorTicks).tickSize(-major).tickPadding(11.5)
      .tickFormat(labelled ? tickText : ""));
  styleAxis(leftAxis, 17.5);
  const leftMinor = svg.append("g").attr("transform", `translate(${b.x0},0)`)
    .call(d3.axisLeft(y).tickValues(yMinorTicks).tickSize(-minor).tickFormat(""));
  styleAxis(leftMinor, 0);
  const rightAxis = svg.append("g").attr("transform", `translate(${b.x1},0)`)
    .call(d3.axisRight(y).tickValues(yMajorTicks).tickSize(-major).tickPadding(8)
      .tickFormat(labelled ? "" : tickText));
  styleAxis(rightAxis, 17.5);
  const rightMinor = svg.append("g").attr("transform", `translate(${b.x1},0)`)
    .call(d3.axisRight(y).tickValues(yMinorTicks).tickSize(-minor).tickFormat(""));
  styleAxis(rightMinor, 0);

  // frame
  svg.append("rect").attr("x", b.x0).attr("y", b.y0)
    .attr("width", b.x1 - b.x0).attr("height", b.y1 - b.y0)
    .attr("fill", "none").attr("stroke", "#000").attr("stroke-width", 1.3);

  // axis titles
  svg.append("text").attr("x", p.labelX).attr("y", p.labelY)
    .attr("text-anchor", "middle").attr("font-size", 27).text("Frequency (MHz)");

  const cy = (b.y0 + b.y1) / 2;
  const yt = svg.append("text").attr("text-anchor", "middle").attr("font-size", 28);
  if (labelled) {
    yt.attr("transform", `translate(37,${cy + 13}) rotate(-90)`);
  } else {
    yt.attr("transform", `translate(${b.x1 + 61},${cy + 21}) rotate(90)`);
  }
  yt.append("tspan").text("S");
  yt.append("tspan").attr("font-size", 18).attr("dy", 6).text("21");
  yt.append("tspan").attr("dy", -6).text(" (dB)");

  // legend
  const L = p.legend;
  layerNames.forEach((name, k) => {
    svg.append("line").attr("x1", L.x0).attr("x2", L.x1)
      .attr("y1", L.rows[k]).attr("y2", L.rows[k])
      .attr("stroke", p.colors[k]).attr("stroke-width", 1.6);
    svg.append("text").attr("x", L.tx).attr("y", L.rows[k]).attr("dy", "0.36em")
      .attr("font-size", L.size).text(name);
  });

  // oxide thickness note
  const n = p.note;
  const h = svg.append("text").attr("x", n.x).attr("y", n.y1).attr("font-size", 16);
  h.append("tspan").text("h");
  h.append("tspan").attr("font-size", 10.5).attr("dy", 4).text("SiO2");
  h.append("tspan").attr("dy", -4).text("/λ");
  svg.append("text").attr("x", n.x).attr("y", n.y2).attr("font-size", 16).text(n.ratio);
});
</script>
</body>
</html>
